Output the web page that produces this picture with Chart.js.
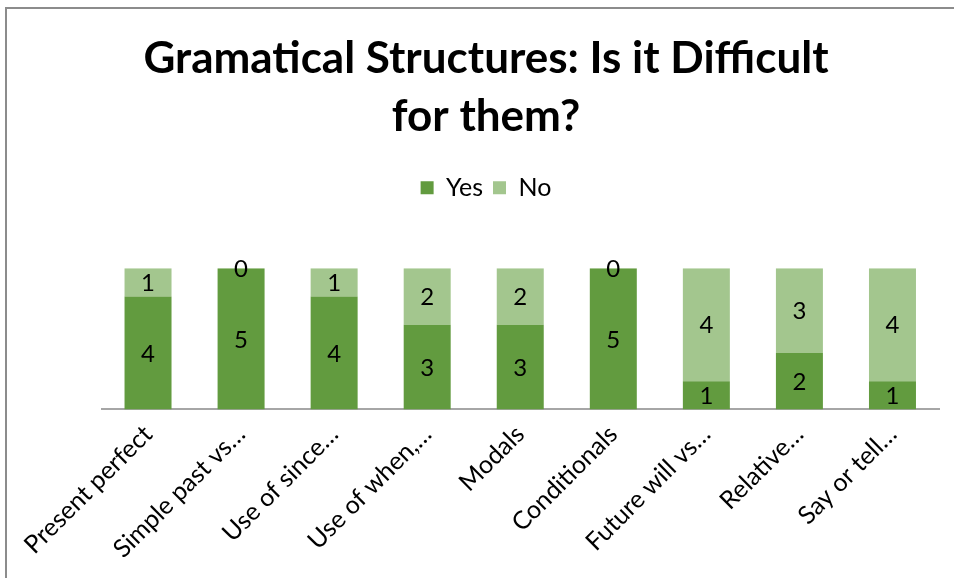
<!DOCTYPE html>
<html>
<head>
<meta charset="utf-8">
<script src="https://cdn.jsdelivr.net/npm/chart.js@4.4.0/dist/chart.umd.min.js"></script>
<style>
  html, body { margin: 0; padding: 0; background: #fff; overflow: hidden; }
  #frame {
    position: absolute; left: 5px; top: 7px; width: 1000px; height: 620px;
    border-left: 2px solid #8c8c8c; border-top: 2px solid #8c8c8c;
  }
  #wrap { position: absolute; left: 0; top: 0; width: 970px; height: 578px; }
</style>
</head>
<body>
<div id="frame"></div>
<div id="wrap"><canvas id="barChart"></canvas></div>
<script>
var categories = [
    'Present perfect', 'Simple past vs\u2026', 'Use of since\u2026', 'Use of when,\u2026',
    'Modals', 'Conditionals', 'Future will vs\u2026', 'Relative\u2026', 'Say or tell\u2026'
];
var yesValues = [4, 5, 4, 3, 3, 5, 1, 2, 1];
var noValues = [1, 0, 1, 2, 2, 0, 4, 3, 4];

var fontFamily = 'Lato, "Open Sans", sans-serif';

// value labels centred in each stacked segment
var segmentLabels = {
    id: 'segmentLabels',
    afterDatasetsDraw: function(chart) {
        var ctx = chart.ctx;
        ctx.save();
        ctx.fillStyle = '#000';
        ctx.font = '24px ' + fontFamily;
        ctx.textAlign = 'center';
        ctx.textBaseline = 'middle';
        chart.data.datasets.forEach(function(ds, i) {
            var meta = chart.getDatasetMeta(i);
            meta.data.forEach(function(bar, j) {
                var cy = (bar.y + bar.base) / 2;
                ctx.fillText(String(ds.data[j]), bar.x, cy + 1);
            });
        });
        ctx.restore();
    }
};

// extra room between the legend and the bars
var legendGap = {
    id: 'legendGap',
    beforeInit: function(chart) {
        var fit = chart.legend.fit;
        chart.legend.fit = function() {
            fit.bind(chart.legend)();
            this.height += 58;
        };
    }
};

var bar = document.getElementById('barChart').getContext('2d');
var myBarChart = new Chart(bar, {
    type: 'bar',
    data: {
        labels: categories,
        datasets: [{
            label: 'Yes',
            data: yesValues,
            backgroundColor: '#629B3F',
            borderWidth: 0
        }, {
            label: 'No',
            data: noValues,
            backgroundColor: '#A3C68E',
            borderWidth: 0
        }]
    },
    options: {
        responsive: true,
        maintainAspectRatio: false,
        animation: false,
        layout: {
            padding: { left: 33, right: 31, top: 0, bottom: 4 }
        },
        datasets: {
            bar: { categoryPercentage: 0.505, barPercentage: 1 }
        },
        plugins: {
            title: {
                display: true,
                text: ['Gramatical Structures: Is it Difficult', 'for them?'],
                color: '#000',
                font: { family: fontFamily, size: 44, weight: 'bold', lineHeight: 1.32 },
                padding: { top: 30, bottom: 19 }
            },
            legend: {
                display: true,
                position: 'top',
                labels: {
                    color: '#000',
                    font: { family: fontFamily, size: 25 },
                    boxWidth: 13,
                    boxHeight: 13,
                    padding: 10
                }
            },
            tooltip: { enabled: false }
        },
        scales: {
            x: {
                stacked: true,
                grid: { display: false, drawTicks: false },
                border: { display: true, color: '#a6a6a6', width: 2 },
                ticks: {
                    color: '#000',
                    font: { family: fontFamily, size: 25 },
                    minRotation: 45,
                    maxRotation: 45,
                    autoSkip: false,
                    padding: 10
                }
            },
            y: {
                stacked: true,
                min: 0,
                max: 5,
                grid: { display: false, drawTicks: false },
                border: { display: false },
                ticks: { display: false },
                // blank value axis, only keeps space left of the bars
                afterFit: function(scale) {
                    scale.width = 68.5;
                }
            }
        }
    },
    plugins: [segmentLabels, legendGap]
});
</script>
</body>
</html>
